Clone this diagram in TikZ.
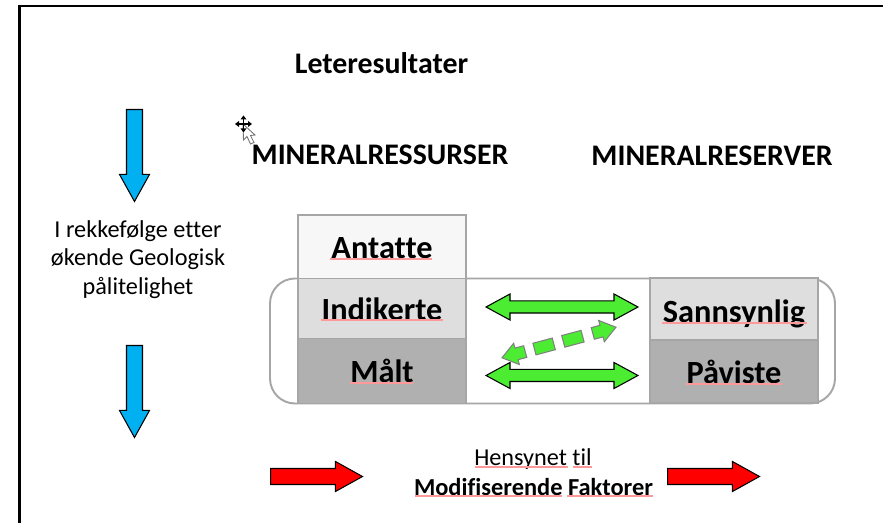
\documentclass[tikz,border=0pt]{standalone}
\usepackage{fontspec}
\setmainfont[Ligatures=CommonOff]{Carlito}
\usetikzlibrary{shapes.arrows}
\definecolor{arrowgreen}{HTML}{4BEC32}
\definecolor{boxgrey}{HTML}{A6A6A6}
\definecolor{arrowblue}{HTML}{00B0F0}
\tikzset{
  bigarrow/.style={single arrow, draw=black, line width=0.6pt, minimum height=1.84cm, minimum width=0.58cm,
    inner sep=0.15cm, single arrow head extend=0.14cm, single arrow tip angle=58, anchor=tail},
  bothways/.style={double arrow, draw=black, line width=0.6pt, fill=arrowgreen, minimum height=3.04cm, minimum width=0.5cm,
    inner sep=0.11cm, double arrow head extend=0.14cm, double arrow tip angle=57},
  hdr/.style={font=\bfseries\fontsize{17}{20}\selectfont, inner sep=0pt},
  cell/.style={draw=boxgrey, line width=1.1pt, minimum width=3.36cm, inner sep=0pt, text depth=0pt, text height=13.2pt,
    font=\bfseries\fontsize{18.4}{22}\selectfont},
  plaintext/.style={font=\fontsize{13.8}{16.3}\selectfont, align=center, inner sep=0pt},
  piece/.style={draw=black!50, line width=0.6pt, fill=arrowgreen},
  squig/.style={red!40, line width=0.6pt}
}
\begin{document}
\begin{tikzpicture}[x=0.02cm,y=-0.02cm]
\useasboundingbox (0,0) rectangle (883,523);
\fill [white] (0,0) rectangle (883,523);

% frame, open at the bottom
\draw [line width=1.5pt] (19.5,523) -- (19.5,6) -- (883,6);

\node [hdr] (title) at (381.5,63) {Leteresultater};
\node [hdr] (res) at (380,155) {MINERALRESSURSER};
\node [hdr] (rsv) at (712,156) {MINERALRESERVER};

% cursor
\draw [black!55, fill=white, line width=0.5pt]
(243,124)--(243.5,140)--(247,136.5)--(250.5,144)--(254,142.5)--(250.5,135.5)--(255,135)--cycle;
\foreach \a in {0,90,180,270}{
\draw [line width=0.6pt, rotate around={\a:(243.5,124)}] (243.5,124)--(243.5,118);
\fill [rotate around={\a:(243.5,124)}] (243.5,115.5)--(246.5,119.5)--(240.5,119.5)--cycle;
}

% blue arrows and the text between them
\node [bigarrow, fill=arrowblue, shape border rotate=270] (down1) at (134.5,109) {};
\node [bigarrow, fill=arrowblue, shape border rotate=270] (down2) at (134.5,345) {};
\node [plaintext] (order) at (138,259.5) {I rekkefølge etter\\økende Geologisk\\pålitelighet};

% rounded band behind the boxes
\draw [boxgrey, line width=1.1pt, rounded corners=0.5cm] (270,278.5) rectangle (835,403.5);

\node [cell, fill=black!3, minimum height=1.28cm] (antatte) at (382,247) {Antatte};
\node [cell, fill=black!13, minimum height=1.2cm] (indikerte) at (382,308.5) {Indikerte};
\node [cell, fill=black!31, minimum height=1.3cm, text height=13.5pt] (malt) at (382,371) {Målt};
\node [cell, fill=black!13, minimum height=1.24cm, text height=15.5pt] (sann) at (734,309) {Sannsynlig};
\node [cell, fill=black!31, minimum height=1.26cm, text height=14pt] (pav) at (734,371.5) {Påviste};

% green arrows
\node [bothways] (top) at (562,307) {};
\node [bothways] (bot) at (562,375.5) {};
\begin{scope}[shift={(559,342.5)}, rotate=15]
\draw [piece] (-59,0)--(-44,-11)--(-44,-6)--(-35,-6)--(-35,6)--(-44,6)--(-44,11)--cycle;
\foreach \u in {-15.4,14.4}{
\draw [piece] (\u-10,-6) rectangle (\u+10,6);
}
\draw [piece] (59,0)--(44,-11)--(44,-6)--(35,-6)--(35,6)--(44,6)--(44,11)--cycle;
\end{scope}

% red arrows and the text between them
\node [bigarrow, fill=red] (right1) at (270,476.5) {};
\node [bigarrow, fill=red] (right2) at (667,476.5) {};
\node [plaintext] (hensyn) at (533,459.5) {Hensynet til};
\node [hdr, font=\bfseries\fontsize{13.9}{17}\selectfont] (modif) at (533.5,487) {Modifiserende Faktorer};

% spell check marks
\foreach \xa/\xb/\yy in {330/432/259,321/443/320,350/413/383,662/807/323,686/782/384,475/568/467,573/592/467,415/562/496,567/653/496}{
\draw [squig] (\xa,\yy)--(\xb,\yy);
}
\end{tikzpicture}
\end{document}
